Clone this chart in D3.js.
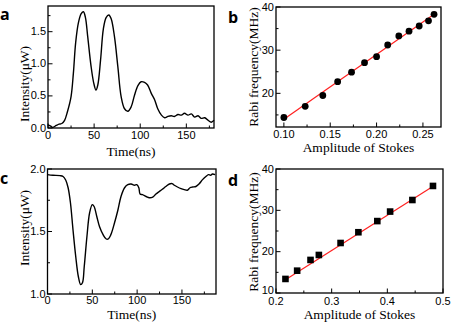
<!DOCTYPE html>
<html>
<head>
<meta charset="utf-8">
<script src="https://cdn.jsdelivr.net/npm/d3@7"></script>
<style>
  body { margin: 0; background: #fff; }
  .tick-label { font-family: "Liberation Sans", Arial, sans-serif; font-size: 11px; }
  .axis-title { font-family: "Liberation Serif", "Times New Roman", serif; font-size: 13.5px; }
  .panel-label { font-family: "Open Sans", "DejaVu Sans", sans-serif; font-size: 16px; font-weight: bold; }
</style>
</head>
<body>
<svg id="chart" width="457" height="324"></svg>
<script>
// panel a: transmitted Stokes intensity vs time
const timeA = [0, 3, 5, 9, 12, 15, 18, 21, 25, 27.5, 30, 33, 36, 38.4, 40.6, 43, 46.7, 49.6, 52, 54, 57, 60, 63, 66, 68.5, 72, 75.7, 79.3, 83, 86.6, 90.2, 93.8, 97.5, 101, 104.7, 108, 112, 115.6, 119, 123, 126.5, 130, 133.7, 137, 141, 144.6, 148, 151.8, 155.4, 159, 162.7, 166, 170, 173.6, 177, 180];
const intensityA = [0.05, 0.03, 0.01, 0.04, 0.06, 0.07, 0.12, 0.25, 0.49, 0.85, 1.33, 1.64, 1.78, 1.81, 1.72, 1.43, 0.96, 0.70, 0.59, 0.67, 1.06, 1.54, 1.72, 1.76, 1.70, 1.43, 0.96, 0.49, 0.30, 0.26, 0.33, 0.51, 0.66, 0.72, 0.71, 0.67, 0.54, 0.44, 0.30, 0.20, 0.16, 0.18, 0.19, 0.18, 0.21, 0.20, 0.23, 0.20, 0.22, 0.17, 0.19, 0.15, 0.16, 0.12, 0.09, 0.12];

// panel b: Rabi frequency vs Stokes amplitude (circles)
const ampB = [0.100, 0.123, 0.142, 0.158, 0.173, 0.187, 0.200, 0.212, 0.224, 0.235, 0.246, 0.256, 0.262];
const rabiB = [14.4, 17.0, 19.5, 22.7, 24.9, 27.1, 28.5, 31.2, 33.3, 34.4, 35.6, 36.8, 38.3];
const fitB = [[0.100, 14.0], [0.262, 38.3]];

// panel c: intensity dip vs time
const timeC = [0, 6, 14, 17.4, 20.4, 23, 25.6, 28.5, 31.5, 34.4, 37, 39, 41, 44, 47, 50, 52, 55, 58, 62, 65.5, 67.8, 70.7, 74.8, 78.5, 82, 86, 89.6, 93.3, 97, 99.6, 101.9, 103.3, 106, 110, 113.7, 117.4, 121, 124.8, 128.5, 132, 136, 139, 141.5, 145, 149, 152.6, 156, 159, 162, 165.6, 169, 173, 176.7, 179.6, 182, 184, 187];
const intensityC = [1.955, 1.95, 1.947, 1.94, 1.91, 1.85, 1.73, 1.51, 1.30, 1.14, 1.075, 1.09, 1.22, 1.46, 1.65, 1.715, 1.70, 1.62, 1.54, 1.475, 1.44, 1.44, 1.475, 1.57, 1.67, 1.78, 1.85, 1.875, 1.88, 1.87, 1.875, 1.85, 1.80, 1.795, 1.78, 1.77, 1.775, 1.80, 1.82, 1.84, 1.86, 1.88, 1.883, 1.87, 1.856, 1.843, 1.835, 1.83, 1.85, 1.856, 1.86, 1.88, 1.915, 1.94, 1.955, 1.95, 1.96, 1.955];

// panel d: Rabi frequency vs Stokes amplitude (squares)
const ampD = [0.217, 0.238, 0.262, 0.277, 0.316, 0.348, 0.382, 0.405, 0.445, 0.482];
const rabiD = [13.4, 15.4, 18.0, 19.2, 22.1, 24.7, 27.4, 29.7, 32.5, 35.9];
const fitD = [[0.217, 13.2], [0.483, 35.9]];

const svg = d3.select("#chart");

function drawPanel(p) {
    const x = d3.scaleLinear().domain(p.xDomain).range([p.left, p.right]);
    const y = d3.scaleLinear().domain(p.yDomain).range([p.bottom, p.top]);
    const g = svg.append("g");

    // minor + major ticks pointing inward
    p.xMinor.forEach(v => {
        g.append("line").attr("x1", x(v)).attr("x2", x(v))
            .attr("y1", p.bottom).attr("y2", p.bottom - 2.5)
            .attr("stroke", "#000").attr("stroke-width", 1);
    });
    p.xTicks.forEach(v => {
        g.append("line").attr("x1", x(v)).attr("x2", x(v))
            .attr("y1", p.bottom).attr("y2", p.bottom - 4.5)
            .attr("stroke", "#000").attr("stroke-width", 1);
        g.append("text").attr("class", "tick-label")
            .attr("x", x(v)).attr("y", p.bottom + p.xLabelGap)
            .attr("text-anchor", "middle")
            .text(p.xFormat(v));
    });
    p.yMinor.forEach(v => {
        g.append("line").attr("x1", p.left).attr("x2", p.left + 2.5)
            .attr("y1", y(v)).attr("y2", y(v))
            .attr("stroke", "#000").attr("stroke-width", 1);
    });
    p.yTicks.forEach((v, i) => {
        g.append("line").attr("x1", p.left).attr("x2", p.left + 4.5)
            .attr("y1", y(v)).attr("y2", y(v))
            .attr("stroke", "#000").attr("stroke-width", 1);
        // lowest label sits on the corner, lift it a little so it clears the x label
        let lift = (i === 0 && p.liftBottomLabel) ? p.liftBottomLabel : 0;
        g.append("text").attr("class", "tick-label")
            .attr("x", p.left - 2).attr("y", y(v) + 3.5 - lift)
            .attr("text-anchor", "end")
            .text(p.yFormat(v));
    });

    // data
    if (p.line) {
        g.append("path")
            .datum(p.line)
            .attr("fill", "none")
            .attr("stroke", "#000")
            .attr("stroke-width", 1.4)
            .attr("stroke-linejoin", "round")
            .attr("d", d3.line().x(d => x(d[0])).y(d => y(d[1])).curve(d3.curveCatmullRom));
    }
    if (p.fit) {
        g.append("path")
            .datum(p.fit)
            .attr("fill", "none")
            .attr("stroke", "#ff2020")
            .attr("stroke-width", 1.2)
            .attr("d", d3.line().x(d => x(d[0])).y(d => y(d[1])));
    }
    if (p.points) {
        if (p.marker === "circle") {
            g.selectAll("circle.pt").data(p.points).enter().append("circle")
                .attr("cx", d => x(d[0])).attr("cy", d => y(d[1]))
                .attr("r", 3.4).attr("fill", "#000");
        } else {
            g.selectAll("rect.pt").data(p.points).enter().append("rect")
                .attr("x", d => x(d[0]) - 3.3).attr("y", d => y(d[1]) - 3.3)
                .attr("width", 6.6).attr("height", 6.6).attr("fill", "#000");
        }
    }

    // frame
    g.append("rect")
        .attr("x", p.left).attr("y", p.top)
        .attr("width", p.right - p.left).attr("height", p.bottom - p.top)
        .attr("fill", "none").attr("stroke", "#000").attr("stroke-width", 1.3);

    // titles
    g.append("text").attr("class", "axis-title")
        .attr("x", (p.left + p.right) / 2).attr("y", p.xTitleY)
        .attr("text-anchor", "middle").text(p.xTitle);
    g.append("text").attr("class", "axis-title")
        .attr("transform", `translate(${p.yTitleX},${p.yTitleCY}) rotate(-90)`)
        .attr("text-anchor", "middle").text(p.yTitle);
    g.append("text").attr("class", "panel-label")
        .attr("x", p.labelX).attr("y", p.labelY).text(p.label);
}

const fmt1 = d3.format(".1f");
const fmt2 = d3.format(".2f");
const fmt0 = d3.format("d");

drawPanel({
    left: 48, right: 214, top: 6, bottom: 128,
    xDomain: [0, 180], yDomain: [0, 1.9],
    xTicks: [0, 50, 100, 150], xMinor: [25, 75, 125, 175],
    yTicks: [0, 0.5, 1.0, 1.5], yMinor: [0.25, 0.75, 1.25, 1.75],
    xFormat: fmt0, yFormat: fmt1, xLabelGap: 11,
    line: timeA.map((t, i) => [t, intensityA[i]]),
    xTitle: "Time(ns)", xTitleY: 156,
    yTitle: "Intensity(\u03bcW)", yTitleX: 29, yTitleCY: 84,
    label: "a", labelX: 0, labelY: 20
});

drawPanel({
    left: 276, right: 441, top: 7, bottom: 127,
    xDomain: [0.0915, 0.2695], yDomain: [12.2, 40],
    xTicks: [0.10, 0.15, 0.20, 0.25], xMinor: [0.125, 0.175, 0.225],
    yTicks: [20, 30, 40], yMinor: [15, 25, 35],
    xFormat: fmt2, yFormat: fmt0, xLabelGap: 11,
    points: ampB.map((a, i) => [a, rabiB[i]]), marker: "circle",
    fit: fitB,
    xTitle: "Amplitude of Stokes", xTitleY: 152,
    yTitle: "Rabi frequency(MHz)", yTitleX: 258, yTitleCY: 67,
    label: "b", labelX: 228, labelY: 23
});

drawPanel({
    left: 47.5, right: 216, top: 169, bottom: 294,
    xDomain: [0, 188], yDomain: [1.0, 2.0],
    xTicks: [0, 50, 100, 150], xMinor: [25, 75, 125, 175],
    yTicks: [1.0, 1.5, 2.0], yMinor: [1.25, 1.75],
    xFormat: fmt0, yFormat: fmt1, xLabelGap: 10,
    line: timeC.map((t, i) => [t, intensityC[i]]),
    xTitle: "Time(ns)", xTitleY: 318.5,
    yTitle: "Intensity(\u03bcW)", yTitleX: 29, yTitleCY: 228,
    label: "c", labelX: 0, labelY: 184
});

drawPanel({
    left: 276, right: 443, top: 169, bottom: 293,
    xDomain: [0.2, 0.5], yDomain: [10, 40],
    xTicks: [0.2, 0.3, 0.4, 0.5], xMinor: [0.25, 0.35, 0.45],
    yTicks: [10, 20, 30, 40], yMinor: [15, 25, 35],
    xFormat: fmt1, yFormat: fmt0, xLabelGap: 11.5, liftBottomLabel: 3,
    points: ampD.map((a, i) => [a, rabiD[i]]), marker: "square",
    fit: fitD,
    xTitle: "Amplitude of Stokes", xTitleY: 318.5,
    yTitle: "Rabi frequency(MHz)", yTitleX: 258, yTitleCY: 232,
    label: "d", labelX: 228, labelY: 186
});
</script>
</body>
</html>
